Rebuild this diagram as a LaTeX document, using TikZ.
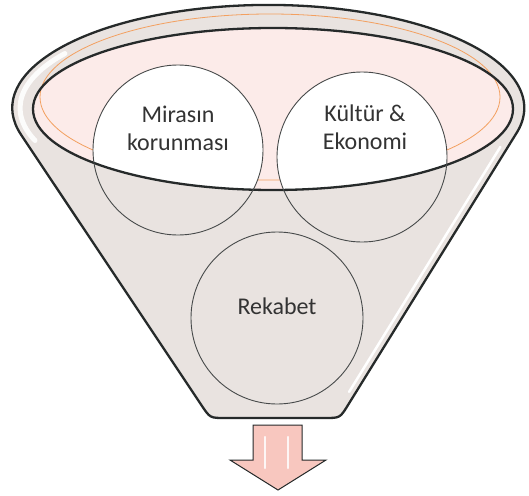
\documentclass[tikz,border=0pt]{standalone}
\usepackage{fontspec}
\setmainfont{Carlito}
\usetikzlibrary{positioning}

\definecolor{funnelgray}{HTML}{E9E3E0}
\definecolor{rimpink}{HTML}{FCEBE9}
\definecolor{rimorange}{HTML}{F3A060}
\definecolor{arrowpink}{HTML}{F8C7BF}
\definecolor{edgegray}{HTML}{262A2A}

\begin{document}
\begin{tikzpicture}[x=1pt, y=-1pt,
  goal/.style={draw=edgegray!85, line width=0.9pt, circle, inner sep=0pt, minimum size=170pt},
  word/.style={align=center, text=black!80, font=\fontsize{24}{28}\selectfont},
  rim/.style={draw=edgegray, line width=2.3pt},
  shine/.style={draw=white, line cap=round}]
  \useasboundingbox (0,0) rectangle (529,495);

  % funnel body
  \path[rim, fill=funnelgray] (21,134.6) arc[start angle=165, end angle=375, x radius=256, y radius=103]
    -- (347.9,405.2) .. controls (340,418) .. (325,418) -- (225,418)
    .. controls (210,418) .. (201.7,405.5) -- cycle;
  \draw[shine, line width=5pt, opacity=.9] (35,140.5) arc[start angle=160, end angle=215, x radius=248, y radius=95];
  \draw[shine, line width=2.5pt] (500.4,146.9) -- (349.1,391.9);

  % mouth of the funnel
  \fill[rimpink] (273,109) ellipse[x radius=240, y radius=81];
  \draw[rimorange, line width=0.8pt] (270,97) ellipse[x radius=230, y radius=83];
  \begin{scope}
    \clip (273,109) ellipse[x radius=240, y radius=81];
    \fill[white] (178,150) circle[radius=85];
    \fill[white] (362,157) circle[radius=85];
  \end{scope}
  \draw[rim] (273,109) ellipse[x radius=240, y radius=81];

  % the three circles
  \node[goal] (heritage) at (178,150) {};
  \node[goal] (culture) at (362,157) {};
  \node[goal, minimum size=172pt] (rivalry) at (277,318) {};
  \node[word] (heritagetext) at ([yshift=22pt]heritage.center) {Mirasın\\korunması};
  \node[word] (culturetext) at ([xshift=3pt, yshift=30pt]culture.center) {Kültür \&\\Ekonomi};
  \node[word] (rivalrytext) at ([yshift=12pt]rivalry.center) {Rekabet};

  % outlet arrow
  \draw[edgegray, line width=1pt, fill=arrowpink] (253,425) -- (302,425) -- (302,460) -- (326,460)
    -- (278,490) -- (230,460) -- (253,460) -- cycle;
  \draw[shine, line width=2.5pt, opacity=.85] (265,437) -- (265,468);
  \draw[shine, line width=2.5pt, opacity=.85] (288,437) -- (288,468);
\end{tikzpicture}
\end{document}
